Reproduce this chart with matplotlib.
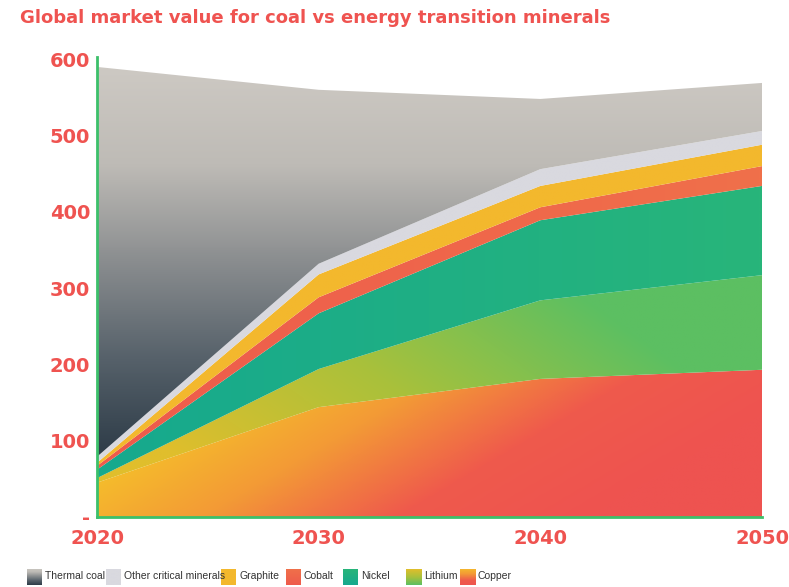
import numpy as np
import matplotlib
matplotlib.use("Agg")
import matplotlib.pyplot as plt
from matplotlib.colors import LinearSegmentedColormap

years = [2020, 2030, 2040, 2050]
series_names = ["Copper", "Lithium", "Nickel", "Cobalt", "Graphite",
                "Other critical minerals", "Thermal coal"]
copper = [45, 144, 181, 193]
lithium = [6, 50, 103, 124]
nickel = [11, 73, 105, 117]
cobalt = [5, 21, 17, 26]
graphite = [4, 30, 28, 28]
other = [8, 14, 22, 18]
thermal_coal = [511, 228, 92, 63]

yticks = [0, 100, 200, 300, 400, 500, 600]
ytick_labels = ["-", "100", "200", "300", "400", "500", "600"]
xtick_labels = ["2020", "2030", "2040", "2050"]
legend_order = ["Thermal coal", "Other critical minerals", "Graphite", "Cobalt",
                "Nickel", "Lithium", "Copper"]

RED = "#ef5350"
GREEN = "#3cc06a"

fig = plt.figure(figsize=(7.89, 5.87), dpi=100)
ax = fig.add_axes([97/789, 1-517/587, (762-97)/789, (517-57)/587])
ax.set_xlim(2020, 2050)
ax.set_ylim(0, 603)

nx, ny = 300, 300
gx = np.linspace(2020, 2050, nx)
gy = np.linspace(0, 603, ny)
GX, GY = np.meshgrid(gx, gy)
xn = (GX - 2020) / 30.0

grads = {
    "Thermal coal": (np.clip((GY - 80) / 510, 0, 1),
                     ["#2e3c48", "#56616a", "#8a8d8f", "#bebbb6", "#cdc9c3"]),
    "Other critical minerals": (np.zeros_like(GX), ["#d9d9df", "#d9d9df"]),
    "Graphite": (np.zeros_like(GX), ["#f3b82d", "#f3b82d"]),
    "Cobalt": (xn, ["#ee5b4c", "#f0704a"]),
    "Nickel": (xn, ["#16a98e", "#28b57a"]),
    "Lithium": (np.clip(xn * 1.05 + (GY - 150) / 600, 0, 1),
                ["#e0be2c", "#a9c13b", "#5cbf62"]),
    "Copper": (np.clip(0.15 + xn * 1.15 - GY / 200 * 0.45, 0, 1),
               ["#f5c12a", "#f39a36", "#ef5a4c", "#ee5350"]),
}

values = [copper, lithium, nickel, cobalt, graphite, other, thermal_coal]
base = np.zeros(len(years))
for name, vals in zip(series_names, values):
    top = base + np.array(vals, dtype=float)
    poly = ax.fill_between(years, base, top, facecolor="none", edgecolor="none", lw=0)
    t, cols = grads[name]
    cmap = LinearSegmentedColormap.from_list(name, cols)
    im = ax.imshow(t, cmap=cmap, vmin=0, vmax=1, origin="lower",
                   extent=[2020, 2050, 0, 603], aspect="auto", interpolation="bilinear")
    im.set_clip_path(poly.get_paths()[0], transform=ax.transData)
    base = top

ax.set_xlim(2020, 2050)
ax.set_ylim(0, 603)

for s in ["top", "right"]:
    ax.spines[s].set_visible(False)
for s in ["left", "bottom"]:
    ax.spines[s].set_color(GREEN)
    ax.spines[s].set_linewidth(2)
    ax.spines[s].set_zorder(5)

ax.set_yticks(yticks)
ax.set_yticklabels(ytick_labels)
ax.set_xticks(years)
ax.set_xticklabels(xtick_labels)
ax.tick_params(axis="both", length=0, colors=RED, labelsize=14)
ax.tick_params(axis="y", pad=5)
ax.tick_params(axis="x", pad=9)
for lab in ax.get_yticklabels() + ax.get_xticklabels():
    lab.set_fontweight("bold")
    lab.set_color(RED)

fig.text(20/789, 1-18/587, "Global market value for coal vs energy transition minerals",
         color=RED, fontsize=13, fontweight="bold", va="center", ha="left")

# legend
patch_x = [27, 106, 221, 286, 343, 406, 460]
for px, name in zip(patch_x, legend_order):
    lax = fig.add_axes([px/789, 1-585/587, 15/789, 16/587])
    lax.set_axis_off()
    t, cols = grads[name]
    cmap = LinearSegmentedColormap.from_list(name + "_l", cols)
    if name == "Thermal coal":
        g = np.linspace(0, 0.9, 50)[:, None]
    elif name == "Copper":
        g = np.linspace(0.9, 0.1, 50)[:, None]
    elif name == "Lithium":
        g = np.linspace(1, 0.0, 50)[:, None]
    else:
        g = np.linspace(0.0, 1.0, 50)[:, None]
    lax.imshow(g, cmap=cmap, vmin=0, vmax=1, aspect="auto", origin="lower",
               extent=[0, 1, 0, 1])
    fig.text((px + 18)/789, 1-576/587, name, fontsize=7.5, color="#333333",
             family=["Liberation Sans Narrow", "Liberation Sans"],
             va="center", ha="left")

fig.savefig("out.png", dpi=100)
